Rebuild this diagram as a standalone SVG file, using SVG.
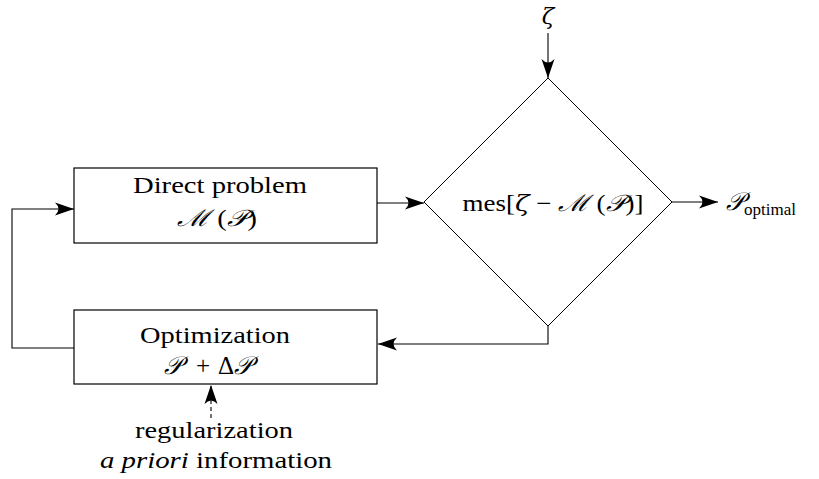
<svg xmlns="http://www.w3.org/2000/svg" width="819" height="479" viewBox="0 0 819 479">
<style>
.box{fill:#fff;stroke:#000;stroke-width:1.2}
.dia{fill:#fff;stroke:#000;stroke-width:1}
.ln{fill:none;stroke:#000;stroke-width:1.1}
.t{font-family:"Liberation Serif","DejaVu Serif",serif;font-size:23px;fill:#000;text-anchor:middle}
.m{font-family:"DejaVu Serif","Liberation Serif",serif;font-style:italic}
</style>
<defs>
<marker id="ah" viewBox="-19 -7 19 14" refX="0" refY="0" markerWidth="19" markerHeight="14" markerUnits="userSpaceOnUse" orient="auto">
<path d="M0,0 L-19,-6.5 Q-12,0 -19,6.5 Z" fill="#000"/>
</marker>
</defs>
<g id="connectors">
<line class="ln" x1="548" y1="33" x2="548" y2="78" marker-end="url(#ah)"/>
<line class="ln" x1="377" y1="203" x2="424" y2="203" marker-end="url(#ah)"/>
<line class="ln" x1="672" y1="202" x2="718" y2="202" marker-end="url(#ah)"/>
<polyline class="ln" points="548,326 548,344 378,344" marker-end="url(#ah)"/>
<polyline class="ln" points="74,348 12,348 12,209 74,209" marker-end="url(#ah)"/>
<line class="ln" x1="211" y1="418" x2="211" y2="385" stroke-dasharray="4,3" marker-end="url(#ah)"/>
</g>
<g id="direct">
<rect class="box" x="74" y="168" width="303" height="75"/>
<text class="t" x="220" y="193" textLength="174" lengthAdjust="spacingAndGlyphs">Direct problem</text>
<text class="t" x="217" y="226" textLength="80" lengthAdjust="spacingAndGlyphs"><tspan class="m">ℳ</tspan> (<tspan class="m">𝒫</tspan>)</text>
</g>
<g id="optimization">
<rect class="box" x="74" y="310" width="303" height="74"/>
<text class="t" x="215" y="343" textLength="150" lengthAdjust="spacingAndGlyphs">Optimization</text>
<text class="t" x="208" y="374" style="font-size:25px"><tspan class="m">𝒫</tspan><tspan dx="14">+</tspan><tspan dx="8">Δ</tspan><tspan class="m">𝒫</tspan></text>
</g>
<g id="measure">
<polygon class="dia" points="548,78 672,202 548,326 424,202"/>
<text class="t" x="553" y="211" textLength="181" lengthAdjust="spacingAndGlyphs">mes[<tspan class="m">ζ</tspan> − <tspan class="m">ℳ</tspan> (<tspan class="m">𝒫</tspan>)]</text>
</g>
<g id="zeta">
<text class="t m" x="548" y="24">ζ</text>
</g>
<g id="optimal">
<text class="t" x="726" y="210" style="text-anchor:start"><tspan class="m" font-size="25">𝒫</tspan><tspan font-size="17" dy="5">optimal</tspan></text>
</g>
<g id="regularization">
<text class="t" x="214" y="438" textLength="158" lengthAdjust="spacingAndGlyphs">regularization</text>
<text class="t" x="216" y="468" textLength="232" lengthAdjust="spacingAndGlyphs"><tspan font-style="italic">a priori</tspan> information</text>
</g>
</svg>
